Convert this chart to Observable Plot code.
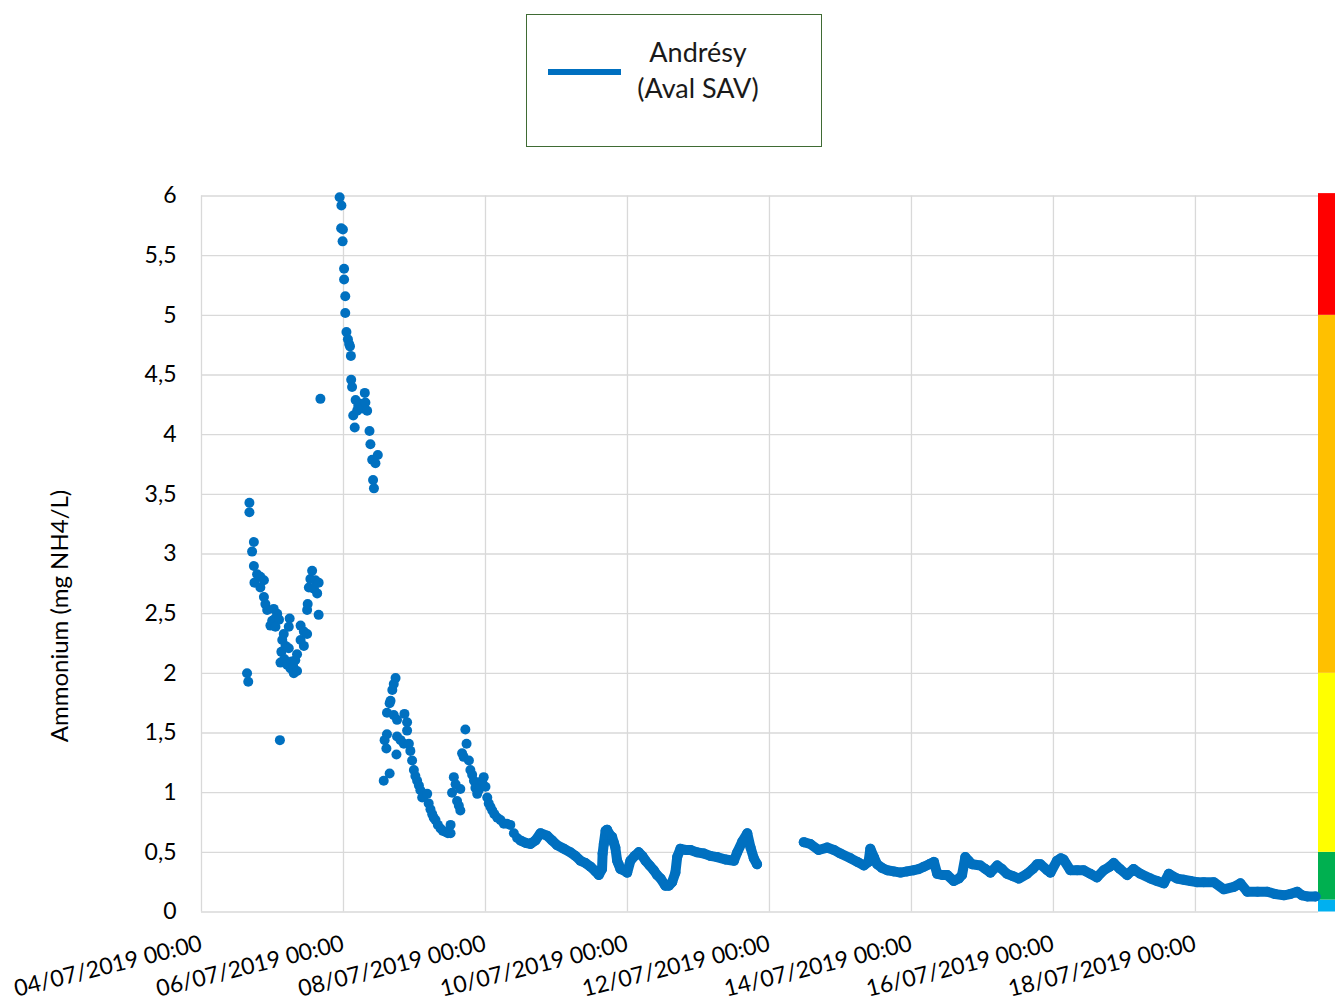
<!DOCTYPE html>
<html><head><meta charset="utf-8">
<script src="https://cdn.jsdelivr.net/npm/d3@7"></script>
<script src="https://cdn.jsdelivr.net/npm/@observablehq/plot@0.6"></script>
<style>
body{margin:0;background:#fff;font-family:Lato,"Open Sans",sans-serif;}
#wrap{position:relative;width:1335px;height:1001px;overflow:hidden}
#legend{position:absolute;left:526px;top:14px;width:296px;height:133px;border:1.3px solid #3f6b34;box-sizing:border-box;background:#fff}
#legend .swatch{position:absolute;left:21px;top:54px;width:73px;height:6px;background:#0070C0}
#legend .txt{position:absolute;left:95px;top:19px;width:152px;text-align:center;font-size:27px;line-height:36px;color:#1a1a1a}
#ylab{position:absolute;left:58px;top:616px;transform:translate(-50%,-50%) rotate(-90deg);white-space:nowrap;font-size:24px;color:#000}
</style></head>
<body>
<div id="wrap">
  <div id="chart"></div>
  <div id="legend"><div class="swatch"></div><div class="txt">Andrésy<br>(Aval SAV)</div></div>
  <div id="ylab">Ammonium (mg NH4/L)</div>
</div>
<script>
// ---- data (hours since 04/07/2019 00:00, ammonium mg NH4/L) ----
const startTime = "2019-07-04T00:00:00Z";
const xEndHours = 377.6;
const bandWidthHours = 5.75;

const scatterHours = [15.4,15.8,16.2,16.2,17.7,17.1,17.7,18.8,17.9,19.9,21.1,19.9,21.1,21.6,22.2,24.4,25.6,23.9,23.3,24.9,26.2,25.0,26.5,26.7,27.0,27.3,27.8,28.0,28.4,29.0,29.5,29.5,29.8,30.1,30.5,31.0,31.2,31.7,32.3,32.3,33.5,33.5,34.6,34.6,35.7,35.7,35.9,36.3,36.8,37.4,38.0,38.5,39.1,39.6,39.6,40.2,
 46.7,47.3,47.2,47.8,47.7,48.2,48.2,48.6,48.6,49.0,49.5,49.9,50.2,50.5,50.6,50.9,51.3,51.8,52.1,52.6,53.0,53.7,54.3,55.2,55.4,56.0,56.8,57.1,57.7,58.0,58.3,58.8,59.6,
 61.6,61.9,62.5,62.7,62.7,63.6,63.6,63.9,64.5,65.0,65.6,65.0,66.1,66.1,65.9,67.3,68.4,68.6,69.5,69.5,70.1,70.6,71.2,71.8,72.3,72.9,73.5,74.0,74.6,75.1,76.3,76.8,77.4,78.0,78.5,79.1,79.9,80.8,81.6,82.5,83.3,84.2,84.2,84.7,85.3,85.9,86.4,87.0,87.5,87.5,88.1,88.6,89.2,89.6,90.4,90.9,91.5,92.1,92.6,93.2,93.7,94.3,94.9,95.4,96.0,96.6,97.1,97.7,98.3,99.0,100.0,101.1,102.2,103.3,104.4,105.6,106.7];
const scatterValues = [2.00,1.93,3.43,3.35,3.10,3.02,2.90,2.83,2.76,2.81,2.78,2.72,2.64,2.58,2.53,2.54,2.50,2.44,2.40,2.46,2.45,2.39,1.44,2.09,2.18,2.28,2.33,2.12,2.23,2.07,2.21,2.39,2.46,2.04,2.10,2.06,2.00,2.11,2.02,2.16,2.28,2.40,2.23,2.35,2.33,2.53,2.58,2.72,2.79,2.86,2.71,2.78,2.67,2.76,2.49,4.30,
 5.99,5.92,5.73,5.72,5.62,5.39,5.30,5.16,5.02,4.86,4.80,4.76,4.74,4.66,4.46,4.40,4.16,4.06,4.29,4.20,4.24,4.26,4.22,4.35,4.27,4.20,4.03,3.92,3.79,3.62,3.55,3.76,3.83,
 1.10,1.44,1.37,1.49,1.67,1.16,1.75,1.77,1.86,1.91,1.96,1.65,1.61,1.47,1.32,1.44,1.41,1.66,1.59,1.52,1.41,1.35,1.27,1.19,1.14,1.10,1.06,1.02,0.96,0.97,0.99,0.91,0.86,0.82,0.79,0.77,0.73,0.70,0.68,0.67,0.66,0.66,0.73,1.00,1.13,1.07,0.93,0.89,0.85,1.03,1.33,1.30,1.53,1.41,1.27,1.19,1.15,1.10,1.04,0.99,1.02,1.05,1.10,1.13,1.05,0.96,0.91,0.88,0.85,0.82,0.79,0.77,0.74,0.74,0.73,0.66,0.62];

const seg1Hours = [107.8,109.5,111.2,112.9,114.6,116.8,118.5,120.2,122.5,124.7,126.4,128.1,129.8,131.5,133.2,134.3,135.4,135.6,136.0,136.6,137.1,137.7,138.2,138.8,139.4,139.9,140.5,141.0,141.6,142.7,143.9,145.0,146.4,147.8,149.0,150.1,151.5,152.9,154.0,155.2,156.8,158.0,159.1,160.2,160.8,161.9,163.6,165.3,167.5,169.8,172.0,174.3,177.1,180.0,181.1,182.8,184.5,185.6,186.7,187.8];
const seg1Values = [0.60,0.58,0.57,0.60,0.66,0.64,0.60,0.56,0.53,0.50,0.47,0.43,0.41,0.38,0.34,0.31,0.36,0.49,0.57,0.68,0.69,0.66,0.64,0.63,0.58,0.54,0.43,0.40,0.36,0.35,0.33,0.43,0.47,0.50,0.47,0.43,0.39,0.35,0.31,0.28,0.22,0.22,0.25,0.33,0.46,0.53,0.52,0.52,0.50,0.49,0.47,0.46,0.44,0.43,0.50,0.59,0.66,0.54,0.45,0.40];

const seg2Hours = [203.6,205.8,208.6,211.5,213.8,216.0,219.4,221.7,223.9,225.5,226.1,227.3,228.4,230.0,231.8,234.0,236.3,238.5,240.8,242.5,244.2,246.0,247.6,248.7,250.4,252.1,254.3,256.0,257.1,258.2,259.3,260.5,263.3,265.0,266.7,269.0,270.6,272.3,274.3,276.3,279.1,281.0,282.5,283.6,285.9,287.0,289.2,290.5,291.4,293.7,296.0,298.2,300.5,302.7,305.0,307.0,308.4,310.5,312.9,315.1,317.4,320.8,323.0,325.3,327.0,329.8,332.0,334.3,336.5,338.8,342.2,345.6,349.0,351.2,353.5,357.0,360.3,363.0,365.9,368.0,370.4,372.0,373.8,376.6];
const seg2Values = [0.585,0.57,0.52,0.54,0.52,0.49,0.45,0.42,0.39,0.42,0.53,0.46,0.40,0.37,0.35,0.34,0.33,0.34,0.35,0.36,0.38,0.40,0.42,0.32,0.31,0.31,0.26,0.28,0.31,0.46,0.43,0.40,0.39,0.36,0.33,0.39,0.36,0.32,0.30,0.28,0.32,0.36,0.40,0.40,0.35,0.33,0.43,0.45,0.44,0.35,0.35,0.35,0.32,0.29,0.35,0.38,0.41,0.36,0.31,0.36,0.32,0.28,0.26,0.24,0.32,0.28,0.27,0.26,0.25,0.25,0.25,0.19,0.21,0.24,0.17,0.17,0.17,0.15,0.14,0.15,0.17,0.14,0.13,0.13];

const tickDates = ["2019-07-04","2019-07-06","2019-07-08","2019-07-10","2019-07-12","2019-07-14","2019-07-16","2019-07-18"];
const yTicks = [0,0.5,1,1.5,2,2.5,3,3.5,4,4.5,5,5.5,6];

const bandLows  = [0, 0.1, 0.5, 2, 5];
const bandHighs = [0.1, 0.5, 2, 5, 6.02];
const bandColors = ["#00B0F0","#00B050","#FFFF00","#FFC000","#FF0000"];

// ---- build ----
const t0 = Date.parse(startTime);
const toDate = h => new Date(t0 + h * 3600000);
const xStart = toDate(0), xEnd = toDate(xEndHours), xBandEnd = toDate(xEndHours + bandWidthHours);

const scatter = scatterHours.map((h, i) => ({t: toDate(h), v: scatterValues[i]}));
const line = [
  ...seg1Hours.map((h, i) => ({t: toDate(h), v: seg1Values[i], seg: 1})),
  ...seg2Hours.map((h, i) => ({t: toDate(h), v: seg2Values[i], seg: 2}))
];
const bands = bandLows.map((lo, i) => ({lo, hi: bandHighs[i], c: bandColors[i]}));
const ticks = tickDates.map(d => new Date(d + "T00:00:00Z"));
const fmt = d3.utcFormat("%d/%m/%Y %H:%M");
const blue = "#0070C0";

const chart = Plot.plot({
  width: 1335, height: 1001,
  marginLeft: 201, marginRight: 17, marginTop: 195.5, marginBottom: 89.5,
  style: {fontFamily: "Lato, 'Open Sans', sans-serif", fontSize: "23px", color: "#000", background: "transparent"},
  x: {type: "utc", domain: [xStart, xEnd]},
  y: {domain: [0, 6]},
  marks: [
    Plot.gridY(yTicks, {stroke: "#d9d9d9", strokeOpacity: 1, strokeWidth: 1.3}),
    Plot.gridX(ticks, {stroke: "#d9d9d9", strokeOpacity: 1, strokeWidth: 1.3}),
    Plot.rect(bands, {x1: () => xEnd, x2: () => xBandEnd, y1: "lo", y2: "hi", fill: "c"}),
    Plot.line(line, {x: "t", y: "v", z: "seg", stroke: blue, strokeWidth: 10, strokeLinecap: "round", strokeLinejoin: "round"}),
    Plot.dot([...scatter, ...line], {x: "t", y: "v", r: 5, fill: blue}),
    Plot.axisY(yTicks, {tickSize: 0, tickPadding: 25, fontSize: 23, label: null, tickFormat: d => String(d).replace(".", ",")}),
    Plot.axisX(ticks, {tickSize: 0, tickPadding: 31, fontSize: 23, tickRotate: -14, label: null, tickFormat: fmt})
  ]
});
document.getElementById("chart").append(chart);
</script>
</body></html>
